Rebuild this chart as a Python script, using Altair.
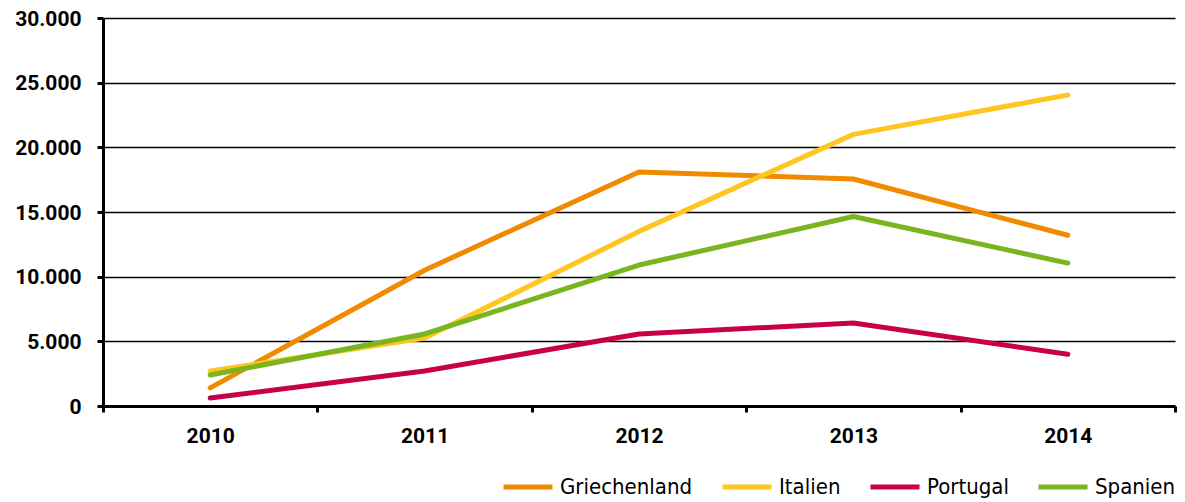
import altair as alt
import pandas as pd

years = ["2010", "2011", "2012", "2013", "2014"]
griechenland = [1400, 10500, 18100, 17550, 13200]
italien = [2700, 5250, 13500, 21000, 24050]
portugal = [620, 2700, 5570, 6420, 4000]
spanien = [2400, 5570, 10900, 14650, 11050]

countries = ["Griechenland", "Italien", "Portugal", "Spanien"]
colors = ["#F08A00", "#FFC520", "#C8004B", "#78B51E"]

rows = []
for name, vals in zip(countries, [griechenland, italien, portugal, spanien]):
    for y, v in zip(years, vals):
        rows.append({"Jahr": y, "Land": name, "Wert": v})
df = pd.DataFrame(rows)

AXIS_FONT = "Roboto"
LEGEND_FONT = "DejaVu Sans Condensed"

chart = alt.Chart(df).mark_line(strokeWidth=5, strokeCap="round", strokeJoin="round").encode(
    x=alt.X("Jahr:N", scale=alt.Scale(type="band", paddingInner=0, paddingOuter=0),
            bandPosition=0.5,
            axis=alt.Axis(title=None, labelAngle=0, tickBand="extent", domainColor="black",
                          domainWidth=3, tickColor="black", tickWidth=3, tickSize=6,
                          labelFont=AXIS_FONT, labelFontWeight="bold",
                          labelFontSize=21, labelColor="black", labelPadding=13,
                          grid=False)),
    y=alt.Y("Wert:Q", scale=alt.Scale(domain=[0, 30000], nice=False),
            axis=alt.Axis(title=None, values=[0, 5000, 10000, 15000, 20000, 25000, 30000],
                          labelExpr="replace(format(datum.value, ',d'), ',', '.')",
                          domainColor="black", domainWidth=3, tickColor="black",
                          tickWidth=3, tickSize=6, gridColor="black", gridWidth=1.5,
                          labelFont=AXIS_FONT, labelFontWeight="bold",
                          labelFontSize=21, labelColor="black", labelPadding=16,
                          labelOffset=1)),
    color=alt.Color("Land:N", scale=alt.Scale(domain=countries, range=colors),
                    legend=alt.Legend(title=None, orient="none", legendX=398, legendY=442,
                                      direction="horizontal", symbolType="stroke",
                                      symbolSize=2400, symbolStrokeWidth=5,
                                      labelFont=LEGEND_FONT, labelFontSize=22, labelColor="black",
                                      labelOffset=5, columnPadding=19, padding=0)),
).properties(
    width=1072, height=388,
    autosize=alt.AutoSizeParams(type="none"),
    padding={"left": 95, "top": 10, "right": 2, "bottom": 96},
).configure_view(stroke=None)

chart.save("out.html", embed_options={"renderer": "svg", "actions": False})
